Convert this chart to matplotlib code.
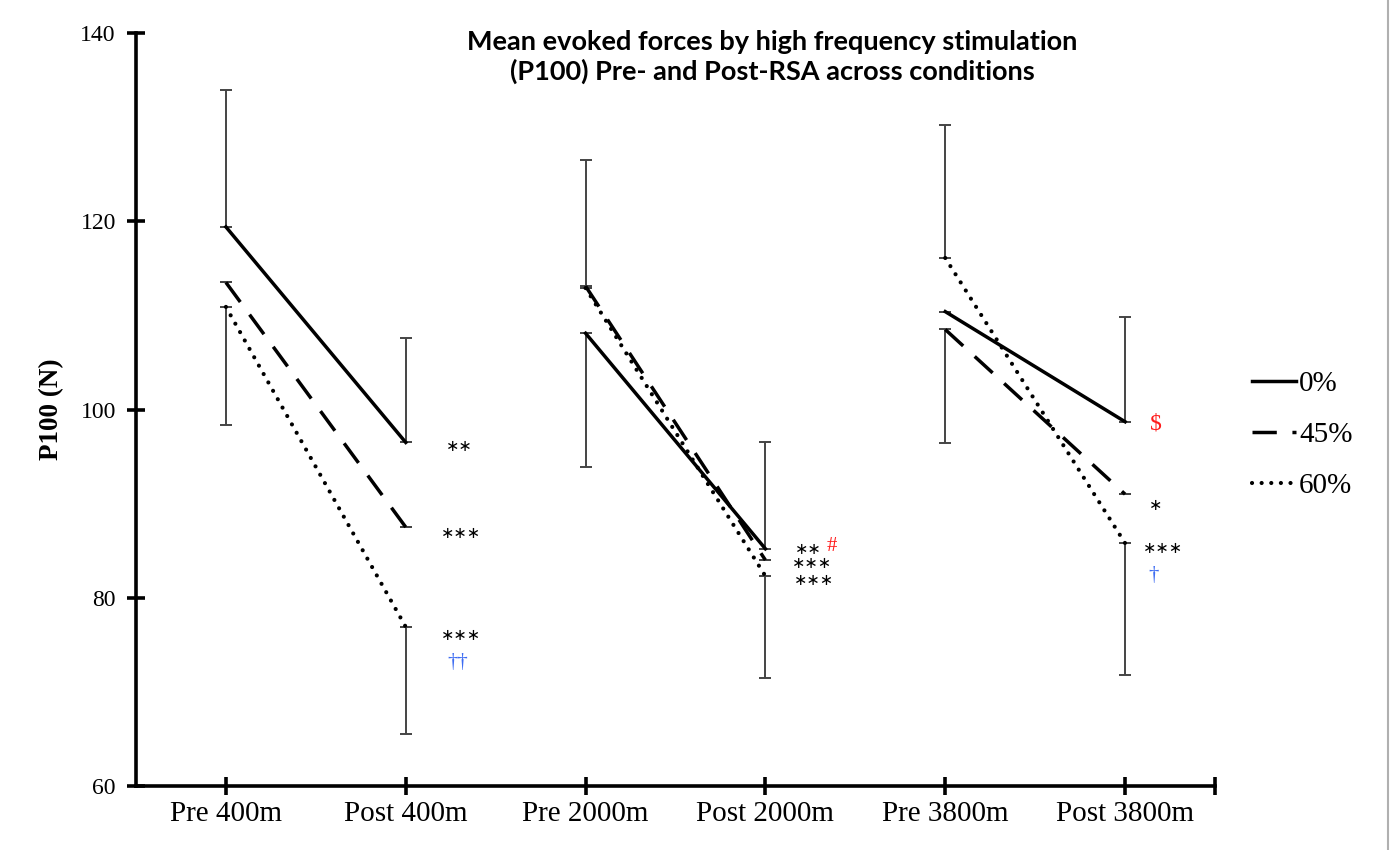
import numpy as np
import matplotlib
matplotlib.use("Agg")
import matplotlib.pyplot as plt
from matplotlib.lines import Line2D

# chart values
categories = ['Pre 400m', 'Post 400m', 'Pre 2000m', 'Post 2000m', 'Pre 3800m', 'Post 3800m']
labels = ['0%', '45%', '60%']

p0 = [119.4, 96.5, 108.1, 85.2, 110.4, 98.7]
p45 = [113.5, 87.5, 113.1, 84.0, 108.5, 91.0]
p60 = [110.9, 76.9, 112.9, 82.3, 116.1, 85.8]

# one-sided SD bars (zero where only a cap shows)
up0 = [14.5, 11.1, 0, 11.3, 0, 11.1]
lo0 = [0, 0, 14.2, 0, 0, 0]
up45 = [0, 0, 13.4, 0, 0, 0]
lo45 = [0, 0, 0, 0, 12.1, 0]
up60 = [0, 0, 0, 0, 14.1, 0]
lo60 = [12.5, 11.4, 0, 10.8, 0, 14.0]

# significance marks next to the post values
ann_text = ['∗∗', '∗∗∗', '∗∗∗', '††', '∗∗', '#', '∗∗∗', '∗∗∗', '$', '∗', '∗∗∗', '†']
ann_x = [1.30, 1.31, 1.31, 1.29, 3.24, 3.37, 3.26, 3.27, 5.17, 5.17, 5.21, 5.16]
ann_y = [96.2, 87.0, 76.2, 73.4, 85.3, 85.7, 83.8, 82.0, 98.7, 90.0, 85.4, 82.6]
ann_col = ['black', 'black', 'black', '#3d6cf2', 'black', '#ff1a1a',
           'black', 'black', '#ff1a1a', 'black', 'black', '#3d6cf2']

serif = 'Liberation Serif'

fig = plt.figure(figsize=(13.95, 8.5), dpi=100)
ax = fig.add_axes([136/1395, 1-786/850, (1215-136)/1395, (786-33)/850])

x = np.arange(len(categories))
series = [p0, p45, p60]
ups = [up0, up45, up60]
los = [lo0, lo45, lo60]
styles = ['-', (0, (7, 4.5)), (0, (0.01, 2.3))]
widths = [2.5, 2.5, 3.0]

for vals, ls, w in zip(series, styles, widths):
    for i in range(0, len(categories), 2):
        ax.plot(x[i:i+2], vals[i:i+2], color='black', lw=w, linestyle=ls,
                dash_capstyle='round' if ls == styles[2] else 'butt', zorder=3)

for vals, up, lo in zip(series, ups, los):
    ax.errorbar(x, vals, yerr=[lo, up], fmt='none', ecolor='#444444',
                elinewidth=1.4, capsize=4.5, capthick=1.4, zorder=2)

for t, xx, yy, c in zip(ann_text, ann_x, ann_y, ann_col):
    if '∗' in t:
        fam, size = ['DejaVu Sans'], 11.5
    elif '†' in t:
        fam, size = [serif], 15
    elif t == '#':
        fam, size = [serif], 15
    else:
        fam, size = [serif], 17
    ax.text(xx, yy, t, color=c, ha='center', va='center_baseline', fontsize=size, family=fam)

ax.set_xlim(-0.5, 5.5)
ax.set_ylim(60, 140)
ax.set_yticks([60, 80, 100, 120, 140])
ax.set_xticks(list(x) + [5.5])
ax.set_xticklabels(categories + [''])
for s in ['top', 'right']:
    ax.spines[s].set_visible(False)
for s in ['left', 'bottom']:
    ax.spines[s].set_linewidth(2.6)
ax.tick_params(axis='both', direction='inout', length=13, width=2.6)
ax.tick_params(axis='x', labelsize=21, pad=4)
ax.tick_params(axis='y', labelsize=17, pad=8)
for lab in ax.get_xticklabels() + ax.get_yticklabels():
    lab.set_family(serif)

ax.set_ylabel('P100 (N)', fontsize=19.5, fontweight='bold', family=serif, labelpad=12)

fig.text(772/1395, 1-57/850, 'Mean evoked forces by high frequency stimulation\n(P100) Pre- and Post-RSA across conditions',
         ha='center', va='center', fontsize=19.5, fontweight='bold', family='Lato', linespacing=1.25)

handles = [Line2D([], [], color='black', lw=w, linestyle=ls,
                  dash_capstyle='round' if ls == styles[2] else 'butt')
           for ls, w in zip(styles, widths)]
fig.legend(handles, labels, loc='center left', bbox_to_anchor=(1252/1395, 1-435/850),
           frameon=False, prop={'family': serif, 'size': 21}, handlelength=1.5,
           handletextpad=0.12, labelspacing=0.85, borderpad=0, borderaxespad=0)

fig.add_artist(Line2D([1388/1395, 1388/1395], [0, 1], color='#b0b0b0', lw=1.5))

fig.savefig('out.png', dpi=100)
